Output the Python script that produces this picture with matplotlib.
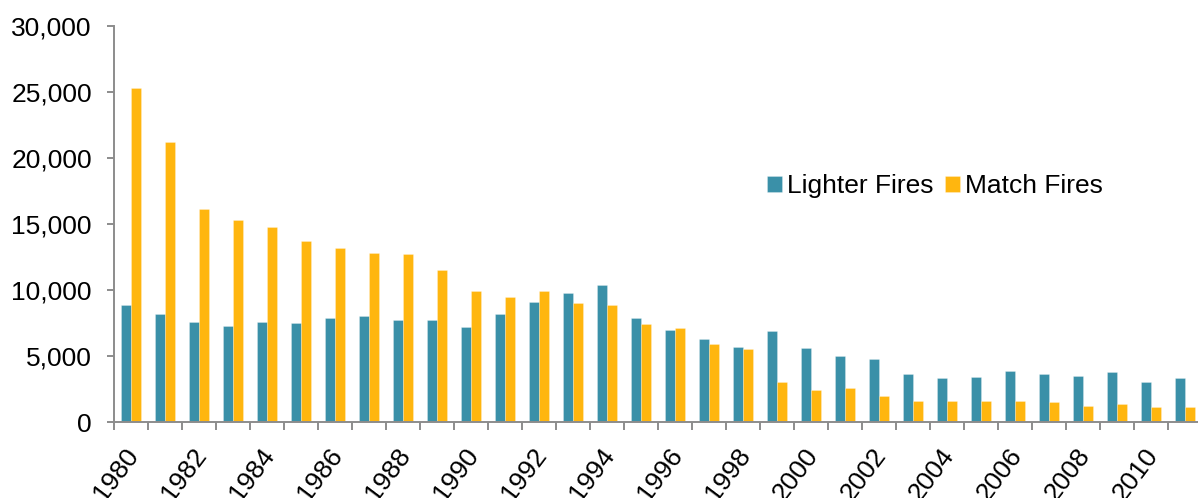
import matplotlib
matplotlib.use('Agg')
import matplotlib.pyplot as plt
import matplotlib.transforms as mtransforms
from matplotlib.ticker import FuncFormatter
import numpy as np

plt.rcParams['font.family'] = ['Liberation Sans', 'DejaVu Sans']

anos = list(range(1980, 2012))
isqueiro = [8900, 8200, 7600, 7300, 7600, 7500, 7900, 8000, 7700, 7700,
            7200, 8200, 9100, 9800, 10400, 7900, 7000, 6300, 5700, 6900,
            5600, 5000, 4800, 3600, 3300, 3400, 3900, 3600, 3500, 3800,
            3000, 3300]
fosforo = [25300, 21200, 16100, 15300, 14800, 13700, 13200, 12800, 12700, 11500,
           9900, 9500, 9900, 9000, 8900, 7400, 7100, 5900, 5500, 3000,
           2400, 2600, 2000, 1600, 1600, 1600, 1600, 1500, 1200, 1400,
           1100, 1100]
nomes = ["Lighter Fires", "Match Fires"]
cores = ['#3A90A8', '#FFB60F']
cinza = '#8C8C8C'

fig = plt.figure(figsize=(11.98, 4.98), dpi=100)
ax = fig.add_axes([114/1198, 76/498, 1088/1198, 396/498])

x = np.arange(len(anos))
w = 0.285
ax.bar(x - w/2, isqueiro, w, color=cores[0], edgecolor=(1, 1, 1, 0.35), linewidth=0.5, label=nomes[0])
ax.bar(x + w/2, fosforo, w, color=cores[1], edgecolor=(1, 1, 1, 0.35), linewidth=0.5, label=nomes[1])

ax.set_xlim(-0.5, len(anos) - 0.5)
ax.set_ylim(0, 30000)
ax.set_yticks(range(0, 30001, 5000))
ax.yaxis.set_major_formatter(FuncFormatter(lambda v, p: f'{int(v):,}'))

# ticks nos limites das categorias, rótulos no centro
ax.set_xticks(np.arange(-0.5, len(anos), 1.0))
ax.set_xticklabels([])
ax.set_xticks(x[::2], minor=True)
ax.set_xticklabels([str(a) for a in anos[::2]], minor=True)
ax.tick_params(axis='x', which='major', length=6, width=1.4, color=cinza, direction='out')
ax.tick_params(axis='x', which='minor', length=0, pad=15.5, labelsize=19)
ax.tick_params(axis='y', length=5, width=1.4, color=cinza, direction='out', labelsize=19, pad=11)

desloc = mtransforms.ScaledTranslation(-7/100, 0, fig.dpi_scale_trans)
for lb in ax.get_xticklabels(minor=True):
    lb.set_rotation(53)
    lb.set_rotation_mode('anchor')
    lb.set_ha('right')
    lb.set_va('top')
    lb.set_transform(lb.get_transform() + desloc)

for s in ['top', 'right']:
    ax.spines[s].set_visible(False)
for s in ['left', 'bottom']:
    ax.spines[s].set_color(cinza)
    ax.spines[s].set_linewidth(1.4)

fig.legend(loc='center left', bbox_to_anchor=(754/1198, 1 - 186/498), ncol=2, frameon=False,
           fontsize=19, handlelength=0.55, handleheight=0.55, handletextpad=0.2,
           columnspacing=0.45, borderpad=0)

plt.savefig('out.png', dpi=100)
plt.close()
